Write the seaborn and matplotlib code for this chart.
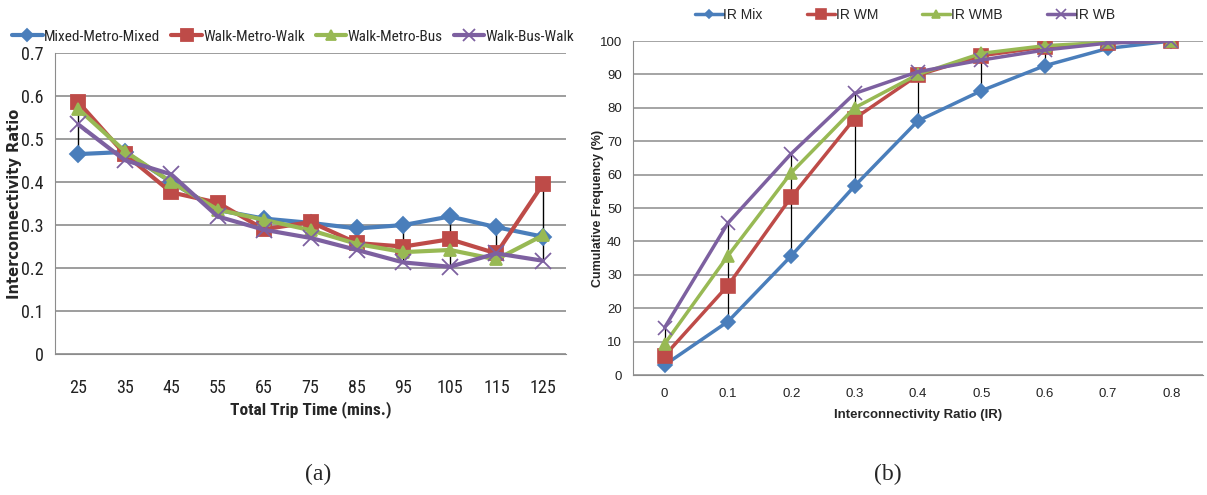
import numpy as np
import pandas as pd
import matplotlib
matplotlib.use("Agg")
import matplotlib.pyplot as plt
import seaborn as sns

# --- data ---
trip_time = [25, 35, 45, 55, 65, 75, 85, 95, 105, 115, 125]
mixed_metro_mixed = [0.465, 0.47, 0.40, 0.335, 0.315, 0.305, 0.292, 0.30, 0.32, 0.295, 0.273]
walk_metro_walk = [0.586, 0.465, 0.376, 0.352, 0.29, 0.307, 0.258, 0.25, 0.267, 0.234, 0.395]
walk_metro_bus = [0.570, 0.472, 0.40, 0.336, 0.312, 0.288, 0.256, 0.237, 0.242, 0.220, 0.276]
walk_bus_walk = [0.534, 0.451, 0.418, 0.320, 0.289, 0.270, 0.242, 0.213, 0.203, 0.234, 0.217]

ir = [0, 0.1, 0.2, 0.3, 0.4, 0.5, 0.6, 0.7, 0.8]
ir_mix = [3.0, 16.0, 35.7, 56.6, 76.1, 85.1, 92.6, 97.8, 100]
ir_wm = [5.8, 26.8, 53.3, 76.8, 89.8, 95.6, 98.2, 99.5, 100]
ir_wmb = [9.3, 35.7, 60.6, 80.0, 90.0, 96.3, 98.6, 99.6, 100]
ir_wb = [14.2, 45.5, 66.3, 84.3, 90.8, 94.3, 97.3, 99.4, 100]

left_names = ["Mixed-Metro-Mixed", "Walk-Metro-Walk", "Walk-Metro-Bus", "Walk-Bus-Walk"]
right_names = ["IR Mix", "IR WM", "IR WMB", "IR WB"]

colors = ["#4A7EBB", "#BE4B48", "#98B954", "#7D60A0"]
markers = ["D", "s", "^", "x"]

sns.set_style("white")
narrow = ["Roboto Condensed", "Liberation Sans", "DejaVu Sans"]
plt.rcParams["font.family"] = ["Liberation Sans", "DejaVu Sans"]

fig = plt.figure(figsize=(12.07, 4.95), dpi=100)

# ---------- (a) ----------
ax1 = fig.add_axes([0.0456, 0.2848, 0.4234, 0.608])
df_a = pd.DataFrame({"time": trip_time,
                     left_names[0]: mixed_metro_mixed,
                     left_names[1]: walk_metro_walk,
                     left_names[2]: walk_metro_bus,
                     left_names[3]: walk_bus_walk})

# high-low lines
vals_a = df_a[left_names].to_numpy()
ax1.vlines(df_a["time"], vals_a.min(axis=1), vals_a.max(axis=1), color="black", lw=1, zorder=1)

msize_a = [8, 10, 9, 11]
for name, c, m, ms in zip(left_names, colors, markers, msize_a):
    sns.lineplot(data=df_a, x="time", y=name, ax=ax1, color=c, marker=m, markersize=ms,
                 lw=3, label=name, markeredgecolor=c, markeredgewidth=1.3, legend=False, zorder=3)

ax1.set_xlim(20, 130)
ax1.set_ylim(0, 0.7)
ax1.set_xticks(trip_time)
ax1.set_xticklabels([str(t) for t in trip_time], family=narrow, fontsize=13)
ax1.set_yticks(np.arange(0, 0.71, 0.1))
ax1.set_yticklabels(["0", "0.1", "0.2", "0.3", "0.4", "0.5", "0.6", "0.7"], family=narrow, fontsize=13)
ax1.yaxis.grid(True, color="#8C8C8C", lw=1.2)
ax1.tick_params(axis="both", length=0, pad=8, colors="#222222")
ax1.tick_params(axis="x", pad=18)
for s in ["top", "right"]:
    ax1.spines[s].set_visible(False)
ax1.spines["left"].set_color("#8C8C8C")
ax1.spines["bottom"].set_color("#8C8C8C")
ax1.set_xlabel("Total Trip Time (mins.)", family=narrow, fontsize=12.5, fontweight="bold", labelpad=3)
ax1.set_ylabel("Interconnectivity Ratio", family="DejaVu Sans", fontsize=10.5, fontweight="bold")
ax1.yaxis.set_label_coords(-0.064, 0.5)
h, l = ax1.get_legend_handles_labels()
fig.legend(h, l, loc="center", bbox_to_anchor=(0.243, 0.926), ncol=4, frameon=False,
           prop={"family": narrow, "size": 11}, handlelength=2.0, handletextpad=0.1,
           columnspacing=0.7, markerscale=0.8)

# ---------- (b) ----------
ax2 = fig.add_axes([0.5244, 0.2424, 0.4722, 0.6747])
df_b = pd.DataFrame({"ir": ir,
                     right_names[0]: ir_mix,
                     right_names[1]: ir_wm,
                     right_names[2]: ir_wmb,
                     right_names[3]: ir_wb})

vals_b = df_b[right_names].to_numpy()
ax2.vlines(df_b["ir"], vals_b.min(axis=1), vals_b.max(axis=1), color="black", lw=0.9, zorder=1)

msize_b = [7, 10, 9, 10]
for name, c, m, ms in zip(right_names, colors, markers, msize_b):
    sns.lineplot(data=df_b, x="ir", y=name, ax=ax2, color=c, marker=m, markersize=ms,
                 lw=2.5, label=name, markeredgecolor=c, markeredgewidth=1.2, legend=False, zorder=3)

ax2.set_xlim(-0.05, 0.85)
ax2.set_ylim(0, 100)
ax2.set_xticks(ir)
ax2.set_xticklabels(["0", "0.1", "0.2", "0.3", "0.4", "0.5", "0.6", "0.7", "0.8"], fontsize=9.5)
ax2.set_yticks(range(0, 101, 10))
ax2.set_yticklabels([str(v) for v in range(0, 101, 10)], fontsize=9.5)
ax2.yaxis.grid(True, color="#8C8C8C", lw=1.1)
ax2.tick_params(axis="both", length=0, pad=8, colors="#222222")
ax2.tick_params(axis="x", pad=9)
for s in ["top", "right"]:
    ax2.spines[s].set_visible(False)
ax2.spines["left"].set_color("#8C8C8C")
ax2.spines["bottom"].set_color("#8C8C8C")
ax2.set_xlabel("Interconnectivity Ratio (IR)", fontsize=9.5, fontweight="bold", labelpad=7)
ax2.set_ylabel("Cumulative Frequency (%)", fontsize=9, fontweight="bold")
ax2.yaxis.set_label_coords(-0.05, 0.5)
h, l = ax2.get_legend_handles_labels()
fig.legend(h, l, loc="center", bbox_to_anchor=(0.75, 0.97), ncol=4, frameon=False,
           prop={"size": 10}, handlelength=2.0, handletextpad=0.05, columnspacing=3.2,
           markerscale=0.65)

# captions
fig.text(0.2635, 0.03, "(a)", family="Liberation Serif", fontsize=17, ha="center")
fig.text(0.7357, 0.03, "(b)", family="Liberation Serif", fontsize=17, ha="center")

fig.savefig("out.png", dpi=100)
